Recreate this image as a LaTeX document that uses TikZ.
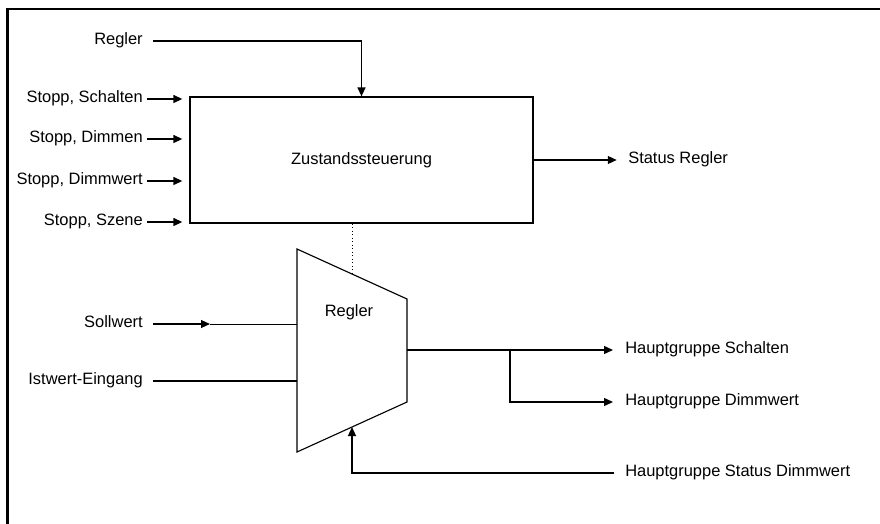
\documentclass[tikz,border=0pt]{standalone}
\usepackage{fontspec}
\setmainfont{Liberation Sans}
\usepackage{tikz}
\usetikzlibrary{arrows.meta,positioning,calc}

\tikzset{
	sig/.style={line width=1.1pt,-{Triangle[length=6.4pt,width=5.6pt]}},
	wire/.style={line width=1.1pt},
	lblL/.style={anchor=east,inner sep=0pt,text height=0.73em,text depth=0.21em},
	lblR/.style={anchor=west,inner sep=0pt,text height=0.73em,text depth=0.21em},
}

\begin{document}
\begin{tikzpicture}[x=0.025cm,y=-0.025cm,font=\fontsize{11.7}{14}\selectfont]
	\useasboundingbox (0,0) rectangle (880,524);
	\draw[line width=1.5pt] (7.5,524) -- (7.5,9) -- (880,9);
	
	\node[draw,line width=0.8pt,minimum width=8.575cm,minimum height=3.15cm,inner sep=0pt] (zs) at (361.5,160) {Zustandssteuerung};
	
	\coordinate (tl) at (297,249);
	\coordinate (tr) at (407,299);
	\coordinate (br) at (407,402);
	\coordinate (bl) at (297,452);
	\draw[line width=0.8pt] (tl) -- (tr) -- (br) -- (bl) -- cycle;
	\node (rg) at (349,312) {Regler};
	
	\node[lblL] (lreg) at (143,41) {Regler};
	\node[lblL] (s1) at (143,99) {Stopp, Schalten};
	\node[lblL] (s2) at (143,139) {Stopp, Dimmen};
	\node[lblL] (s3) at (143,181) {Stopp, Dimmwert};
	\node[lblL] (s4) at (143,222) {Stopp, Szene};
	\node[lblL] (sw) at (143,324) {Sollwert};
	\node[lblL] (iw) at (143,381) {Istwert-Eingang};
	
	\node[lblR] (sr) at (628,160) {Status Regler};
	\node[lblR] (hs) at (625,350) {Hauptgruppe Schalten};
	\node[lblR] (hd) at (625,402) {Hauptgruppe Dimmwert};
	\node[lblR] (hsd) at (625,473) {Hauptgruppe Status Dimmwert};
	
	\coordinate (dt) at (352,274);
	\coordinate (swm) at (210,324);
	\coordinate (tout) at (407,350);
	\coordinate (hsb) at (510,350);
	\coordinate (fb) at (352,427);
	
	\draw[sig,shorten <=7pt] (lreg.east) -| (zs.north);
	\foreach \s in {s1,s2,s3,s4}
		\draw[sig,shorten <=3pt,shorten >=5pt] (\s.east) -- (\s.east -| zs.west);
	\draw[sig,shorten >=8pt] (zs.east) -- (sr.west);
	\draw[dotted,line width=0.5pt] (dt |- zs.south) -- (dt);
	
	\draw[sig,shorten <=7pt] (sw.east) -- (swm);
	\draw[line width=0.6pt] (swm) -- (swm -| tl);
	\draw[wire,shorten <=7pt] (iw.east) -- (iw.east -| tl);
	
	\draw[sig,shorten >=8.5pt] (tout) -- (hs.west);
	\draw[sig,shorten >=8.5pt] (hsb) |- (hd.west);
	\draw[sig,shorten <=8pt] (hsd.west) -| (fb);
\end{tikzpicture}
\end{document}
